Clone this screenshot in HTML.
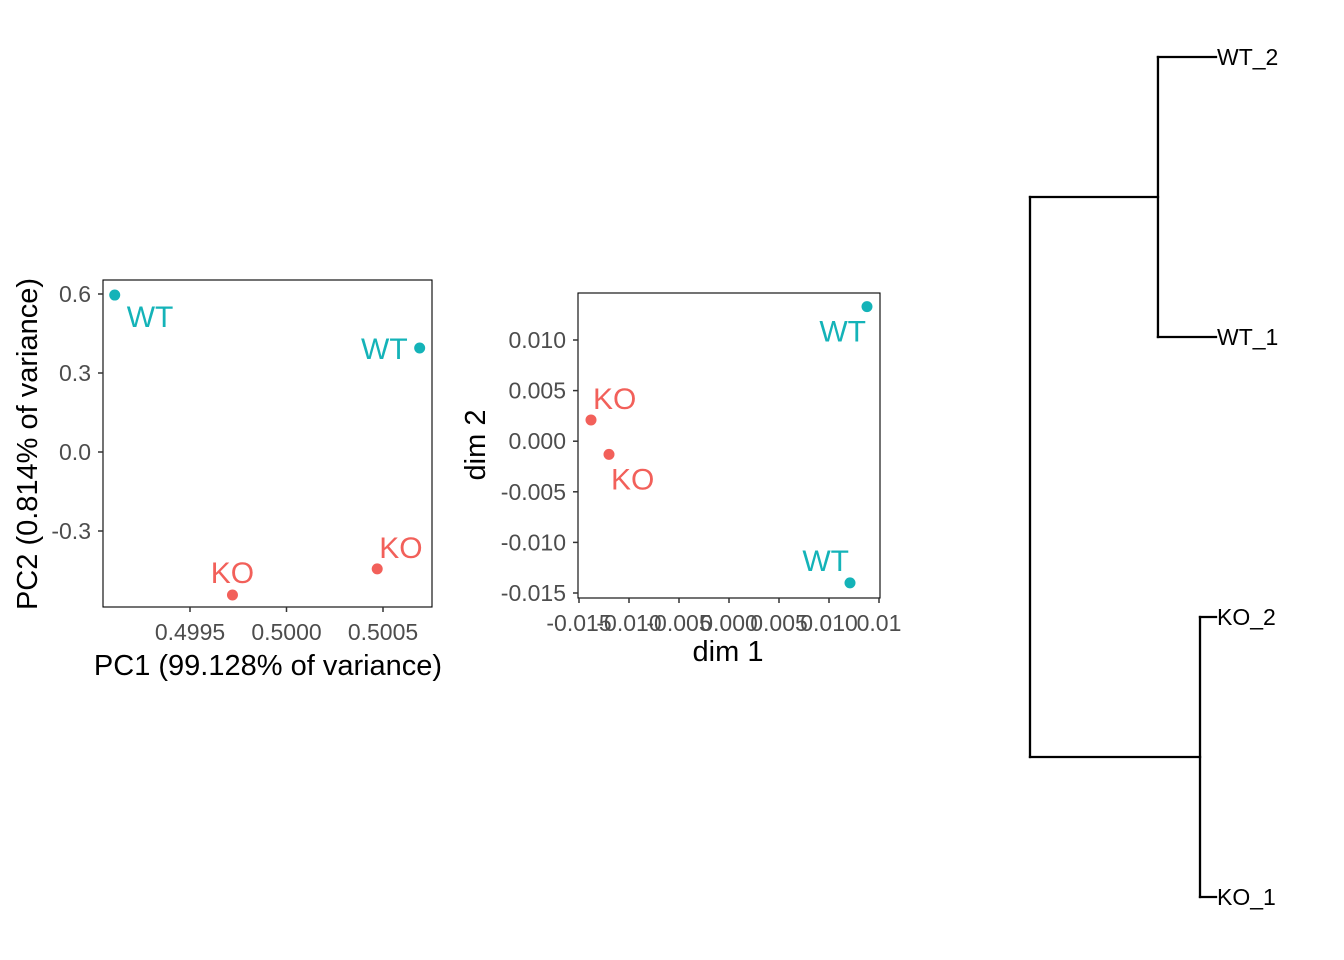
<!DOCTYPE html>
<html><head><meta charset="utf-8"><style>
body{margin:0;background:#fff;}
svg{display:block;font-family:"Liberation Sans",Arial,sans-serif;}
</style></head><body>
<svg id="s" width="1344" height="960"></svg>
<script>
// PCA data
const pcaLabels=["WT","WT","KO","KO"];
const pcaX=[0.49911,0.50069,0.49972,0.50047];
const pcaY=[0.596,0.395,-0.543,-0.444];
const pcaXTicks=[0.4995,0.5000,0.5005];
const pcaXTickLabels=["0.4995","0.5000","0.5005"];
const pcaYTicks=[0.6,0.3,0.0,-0.3];
const pcaYTickLabels=["0.6","0.3","0.0","-0.3"];
// MDS data
const mdsLabels=["WT","WT","KO","KO"];
const mdsX=[0.0138,0.0121,-0.0138,-0.0120];
const mdsY=[0.0133,-0.0140,0.0021,-0.0013];
const mdsXTicks=[-0.015,-0.010,-0.005,0.000,0.005,0.010,0.015];
const mdsXTickLabels=["-0.015","-0.010","-0.005","0.000","0.005","0.010","0.01"];
const mdsYTicks=[0.010,0.005,0.000,-0.005,-0.010,-0.015];
const mdsYTickLabels=["0.010","0.005","0.000","-0.005","-0.010","-0.015"];
// Dendrogram data
const leafNames=["WT_2","WT_1","KO_2","KO_1"];
const mergeHeights=[0.312,0.086,1.0]; // WT merge, KO merge, root

const S=document.getElementById('s');
const NS="http://www.w3.org/2000/svg";
function el(tag,attrs,txt){const e=document.createElementNS(NS,tag);for(const k in attrs)e.setAttribute(k,attrs[k]);if(txt!==undefined)e.textContent=txt;S.appendChild(e);return e;}
const col={WT:"#14b3b8",KO:"#f2605a"};

function panel(o){
  const fx=v=>o.x0+(v-o.dx0)/(o.dx1-o.dx0)*(o.x1-o.x0);
  const fy=v=>o.y0+(v-o.dy0)/(o.dy1-o.dy0)*(o.y1-o.y0);
  let r=el('rect',{x:o.bx0,y:o.by0,width:o.bx1-o.bx0,height:o.by1-o.by0,fill:'none',stroke:'#000','stroke-width':1.1});
  
  o.xt.forEach((v,i)=>{const x=fx(v);
    let l=el('line',{x1:x,x2:x,y1:o.by1,y2:o.by1+5,stroke:'#333','stroke-width':1.5});
    
    let t=el('text',{x:x,y:o.by1+33,'font-size':o.tfs,fill:'#4d4d4d','text-anchor':'middle'},o.xtl[i]);
    });
  o.yt.forEach((v,i)=>{const y=fy(v);
    let l=el('line',{x1:o.bx0-5,x2:o.bx0,y1:y,y2:y,stroke:'#333','stroke-width':1.5});
    
    let t=el('text',{x:o.bx0-12,y:y+8,'font-size':o.tfs,fill:'#4d4d4d','text-anchor':'end'},o.ytl[i]);
    });
  o.px.forEach((v,i)=>{const x=fx(v),y=fy(o.py[i]);const c=col[o.lab[i]];
    let p=el('circle',{cx:x,cy:y,r:5.5,fill:c});
    
    const off=o.off[i];
    let t=el('text',{x:x+off[0],y:y+off[1],'font-size':30,fill:c,'text-anchor':off[2]},o.lab[i]);
    });
  let xt=el('text',{x:o.xtx,y:o.xty,'font-size':29,fill:'#000','text-anchor':'middle'},o.xtitle);
  
  let yt=el('text',{x:0,y:0,'font-size':29,fill:'#000','text-anchor':'middle',transform:`translate(${o.ytx},${o.yty}) rotate(-90)`},o.ytitle);
  
}
panel({name:'pca',bx0:103,bx1:432,by0:280,by1:607,x0:190,x1:383,dx0:0.4995,dx1:0.5005,y0:294,y1:531,dy0:0.6,dy1:-0.3,
  xt:pcaXTicks,xtl:pcaXTickLabels,yt:pcaYTicks,ytl:pcaYTickLabels,px:pcaX,py:pcaY,lab:pcaLabels,tfs:23,
  off:[[12,32,'start'],[-12,11,'end'],[0,-12,'middle'],[2,-11,'start']],
  xtitle:'PC1 (99.128% of variance)',xtx:268,xty:675,ytitle:'PC2 (0.814% of variance)',ytx:37,yty:444});
panel({name:'mds',bx0:578,bx1:880,by0:293,by1:598,x0:579,x1:879,dx0:-0.015,dx1:0.015,y0:340,y1:593,dy0:0.010,dy1:-0.015,
  xt:mdsXTicks,xtl:mdsXTickLabels,yt:mdsYTicks,ytl:mdsYTickLabels,px:mdsX,py:mdsY,lab:mdsLabels,tfs:23,
  off:[[-1,35,'end'],[-1,-12,'end'],[2,-11,'start'],[2,35,'start']],
  xtitle:'dim 1',xtx:728,xty:661,ytitle:'dim 2',ytx:485,yty:445});

// Dendrogram
const leafX=1216,rootX=1030,leafY0=57,leafY1=897;
const hx=h=>leafX-h*(leafX-rootX);
const ly=i=>leafY0+i*(leafY1-leafY0)/(leafNames.length-1);
function seg(x1,y1,x2,y2,n){let l=el('line',{x1,y1,x2,y2,stroke:'#000','stroke-width':2.3,'stroke-linecap':'square'});}
const cl=[[0,1,mergeHeights[0]],[2,3,mergeHeights[1]]];
const mids=[];
cl.forEach((c,k)=>{const x=hx(c[2]);
  seg(x,ly(c[0]),x,ly(c[1]),'dendro-cluster-'+k);
  seg(x,ly(c[0]),leafX,ly(c[0]),'dendro-leaf-branch');
  seg(x,ly(c[1]),leafX,ly(c[1]),'dendro-leaf-branch');
  mids.push([x,(ly(c[0])+ly(c[1]))/2]);});
const rx=hx(mergeHeights[2]);
seg(rx,mids[0][1],rx,mids[1][1],'dendro-root');
mids.forEach(m=>seg(rx,m[1],m[0],m[1],'dendro-root-branch'));
leafNames.forEach((n,i)=>{let t=el('text',{x:leafX+1,y:ly(i)+8,'font-size':23,fill:'#000'},n);
  });
</script>
</body></html>
